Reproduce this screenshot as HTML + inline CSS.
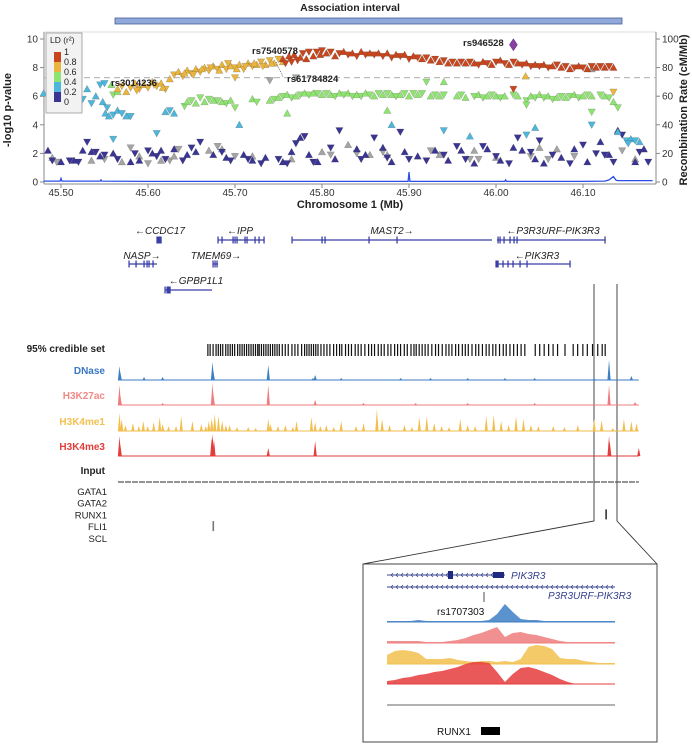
<!DOCTYPE html>
<html><head><meta charset="utf-8">
<style>
html,body{margin:0;padding:0;background:#fff;}
body{width:692px;height:744px;overflow:hidden;font-family:"Liberation Sans",sans-serif;}
svg text{font-family:"Liberation Sans",sans-serif;}
</style></head>
<body>
<svg id="fig" width="692" height="744" viewBox="0 0 692 744" xmlns="http://www.w3.org/2000/svg">
  <text x="350" y="11" text-anchor="middle" font-size="10.5" font-weight="bold" fill="#222">Association interval</text>
  <rect x="115" y="18" width="507" height="6" fill="#90a8da" stroke="#4a5f99" stroke-width="0.8"/>
  <g id="plot"></g>
  <g id="genes"></g>
  <g id="tracks"></g>
  <g id="zoom"></g>
</svg>
<script>
// ===== Scatter data (Mb position, -log10 p) =====
const redPos=[45.755,45.758,45.762,45.765,45.768,45.772,45.775,45.778,45.782,45.785,45.79,45.794,45.798,45.80,45.805,45.81,45.815,45.82,45.825,45.83,45.835,45.84,45.845,45.85,45.855,45.86,45.865,45.87,45.875,45.88,45.885,45.89,45.895,45.90,45.905,45.91,45.915,45.92,45.925,45.93,45.935,45.94,45.945,45.95,45.955,45.96,45.965,45.97,45.975,45.98,45.985,45.99,45.995,46.0,46.005,46.01,46.015,46.02,46.025,46.03,46.035,46.04,46.045,46.05,46.055,46.06,46.065,46.07,46.075,46.08,46.085,46.09,46.095,46.10,46.105,46.11,46.115,46.12,46.125,46.13,46.135,46.02];
const redP=[8.6,8.3,8.8,8.4,8.9,8.5,8.7,9.0,8.6,9.1,8.8,9.1,8.9,9.2,9.0,9.1,8.8,9.0,9.1,8.9,9.0,8.8,9.1,8.9,9.0,8.9,9.0,8.8,9.0,8.7,8.9,8.8,8.9,8.6,8.8,8.7,8.6,8.7,8.5,8.6,8.4,8.5,8.3,8.4,8.3,8.4,8.3,8.4,8.3,8.2,8.4,8.3,8.2,8.4,8.5,8.3,8.2,8.4,8.3,8.2,8.3,8.1,8.2,8.1,8.2,8.0,8.1,8.2,8.0,8.1,7.9,8.0,8.1,8.0,7.9,8.1,8.0,8.1,8.0,8.1,8.0,6.5];
const orangePos=[45.565,45.57,45.575,45.58,45.585,45.59,45.595,45.60,45.605,45.61,45.615,45.62,45.625,45.63,45.635,45.64,45.645,45.65,45.655,45.66,45.665,45.67,45.675,45.68,45.685,45.69,45.695,45.70,45.705,45.71,45.715,45.72,45.725,45.73,45.735,45.74,45.745,45.75,45.755,45.70,46.034,46.135,45.642,45.652,45.662,45.672,45.682,45.692,45.702,45.712,45.722,45.732,45.742,45.607,45.617,45.587];
const orangeP=[6.5,6.7,6.3,6.6,6.9,6.5,6.8,6.6,7.0,6.7,6.9,6.5,7.2,7.5,7.7,7.4,7.8,7.6,7.9,7.7,8.0,7.8,8.1,7.9,8.2,7.9,8.1,8.0,8.2,7.9,8.3,8.1,8.2,8.4,8.2,8.5,8.3,8.6,8.4,7.3,7.4,6.3,7.6,7.5,7.9,8.0,7.8,8.3,7.9,8.1,8.3,8.1,8.3,6.8,6.6,6.4];
const greenPos=[45.558,45.56,45.565,45.642,45.645,45.65,45.655,45.66,45.665,45.67,45.675,45.68,45.685,45.69,45.695,45.70,45.72,45.725,45.74,45.745,45.75,45.755,45.76,45.765,45.77,45.775,45.78,45.785,45.79,45.795,45.80,45.805,45.81,45.815,45.82,45.825,45.83,45.835,45.84,45.845,45.85,45.855,45.86,45.865,45.87,45.875,45.88,45.885,45.89,45.895,45.90,45.905,45.91,45.915,45.925,45.93,45.935,45.94,45.955,45.96,45.965,45.975,45.98,45.985,45.99,45.995,46.0,46.005,46.01,46.02,46.025,46.035,46.04,46.045,46.05,46.055,46.06,46.065,46.07,46.075,46.08,46.085,46.09,46.095,46.10,46.105,46.11,46.12,46.125,46.13,46.135,46.14,45.875,45.92,45.94,46.11,45.76,46.035];
const greenP=[6.8,6.1,6.3,5.3,5.6,5.7,5.5,5.9,5.6,5.8,5.7,5.7,5.6,5.5,5.7,5.2,5.8,5.6,5.7,5.8,5.9,6.0,6.1,5.9,6.0,6.1,6.2,6.1,6.2,6.2,6.1,6.2,6.1,6.0,6.2,6.1,6.2,6.0,6.1,6.0,6.2,6.1,6.0,6.2,6.1,6.2,6.1,6.0,6.1,6.2,6.0,6.2,6.1,6.2,6.0,6.1,6.0,6.1,6.0,6.1,5.9,6.0,6.1,5.9,6.0,6.1,6.0,5.9,6.0,6.1,6.0,5.7,6.0,5.9,6.1,5.9,6.0,5.8,5.9,6.0,5.9,6.0,6.1,5.9,6.0,6.1,6.0,6.1,6.0,5.9,5.6,5.2,5.0,7.0,7.0,4.9,4.8,5.4];
const cyanPos=[45.48,45.49,45.50,45.51,45.52,45.525,45.53,45.535,45.54,45.545,45.548,45.55,45.551,45.553,45.555,45.56,45.565,45.57,45.575,45.58,45.62,45.625,45.63,45.61,45.705,45.56,45.88,45.94,45.97,46.035,46.045,46.11,46.14,46.15,46.155,46.16,46.165,46.152];
const cyanP=[6.2,6.7,6.0,6.6,6.3,5.8,6.5,5.5,6.0,6.8,5.6,6.9,4.8,5.2,4.6,4.7,5.0,4.8,4.6,4.6,4.9,5.0,4.8,3.4,4.0,3.0,4.0,3.6,3.2,3.3,3.8,4.0,3.5,2.9,3.0,2.9,2.8,2.7];
const bluePos=[45.485,45.49,45.50,45.51,45.515,45.52,45.525,45.53,45.535,45.54,45.545,45.55,45.56,45.565,45.58,45.585,45.59,45.60,45.605,45.61,45.615,45.62,45.63,45.64,45.645,45.65,45.655,45.66,45.675,45.685,45.69,45.695,45.71,45.715,45.72,45.73,45.735,45.75,45.755,45.76,45.765,45.77,45.775,45.78,45.785,45.79,45.795,45.81,45.815,45.82,45.84,45.845,45.85,45.86,45.87,45.875,45.88,45.89,45.895,45.90,45.91,45.92,45.93,45.94,45.945,45.955,45.96,45.965,45.975,45.985,45.99,46.0,46.005,46.015,46.02,46.025,46.03,46.04,46.045,46.05,46.055,46.065,46.075,46.085,46.09,46.10,46.105,46.115,46.12,46.125,46.13,46.135,46.14,46.145,46.16,46.165,46.17,46.175];
const blueP=[2.2,1.5,1.4,1.5,1.5,1.4,2.2,2.8,2.1,2.1,1.8,1.9,2.0,1.6,1.4,2.0,1.5,2.2,2.0,1.8,2.2,1.6,2.3,1.5,1.9,2.4,2.1,2.8,1.9,2.1,1.7,1.5,1.9,1.6,1.5,1.3,1.7,1.6,1.4,1.3,2.1,2.7,3.1,3.2,1.9,1.4,1.4,2.4,1.6,3.6,2.3,1.6,1.9,3.1,2.4,1.7,1.4,3.5,2.1,1.6,1.8,1.5,2.2,1.9,1.5,2.5,2.2,1.6,1.3,2.5,2.3,1.8,1.5,1.3,2.4,3.1,2.2,2.1,1.6,2.9,1.3,1.9,1.7,1.3,2.3,2.6,1.4,2.0,2.8,1.9,1.9,1.4,3.6,3.3,1.4,2.1,2.3,1.4];
const grayPos=[45.49,45.495,45.535,45.55,45.57,45.58,45.59,45.60,45.615,45.625,45.63,45.635,45.67,45.68,45.685,45.70,45.72,45.74,45.765,45.77,45.80,45.81,45.83,45.84,45.855,45.87,45.875,45.925,45.935,45.97,45.975,45.98,46.0,46.04,46.05,46.06,46.07,46.09,46.11,46.145,46.16];
const grayP=[1.7,1.4,1.5,1.6,1.4,2.4,1.8,1.3,1.5,1.5,1.8,2.3,2.2,2.5,2.3,1.8,1.8,7.1,1.6,7.3,2.1,1.9,2.6,2.0,1.9,2.1,1.9,2.2,1.9,1.6,2.2,1.6,1.7,1.8,2.4,1.6,2.3,1.8,7.9,2.2,1.6];
const leadPos=46.02, leadP=9.6;
const recPos=[45.48,45.499,45.5,45.501,45.545,45.546,45.547,45.6,45.7,45.8,45.899,45.9,45.901,45.95,46.0,46.01,46.011,46.012,46.1,46.125,46.13,46.135,46.138,46.14,46.16,46.18];
const recRate=[0.6,0.6,2.5,0.6,0.6,1.5,0.6,0.4,0.4,0.4,0.4,7,0.4,0.4,0.4,0.4,1.5,0.4,0.4,0.6,1.5,3.8,1.2,1,1,1];
const xTicks=[45.50,45.60,45.70,45.80,45.90,46.00,46.10];
const yTicks=[0,2,4,6,8,10];
const rTicks=[0,20,40,60,80,100];

const NS="http://www.w3.org/2000/svg";
function mk(tag,attrs,parent){const e=document.createElementNS(NS,tag);for(const k in attrs)e.setAttribute(k,attrs[k]);parent.appendChild(e);return e;}
const X=v=>61+(v-45.5)*870;
const Y=p=>182-p*14.3;
const YR=r=>182-r*1.43;
const plot=document.getElementById('plot');

let fr=mk('line',{x1:44,y1:32,x2:656,y2:32,stroke:'#ddd','stroke-width':1},plot);


let ax=mk('line',{x1:44,y1:32,x2:44,y2:184,stroke:'#888','stroke-width':1},plot);


let ax2=mk('line',{x1:656,y1:32,x2:656,y2:184,stroke:'#888','stroke-width':1},plot);


let axb=mk('line',{x1:44,y1:184,x2:656,y2:184,stroke:'#888','stroke-width':1},plot);


let dl=mk('line',{x1:44,y1:Y(7.3),x2:656,y2:Y(7.3),stroke:'#bbb','stroke-width':1.2,'stroke-dasharray':'6,4'},plot);



yTicks.forEach(t=>{
  const l=mk('line',{x1:40,y1:Y(t),x2:44,y2:Y(t),stroke:'#888'},plot);
  
  
  const tx=mk('text',{x:38,y:Y(t)+3.5,'text-anchor':'end','font-size':10,fill:'#333'},plot);tx.textContent=t;
  
  
});
rTicks.forEach(t=>{
  const l=mk('line',{x1:656,y1:YR(t),x2:660,y2:YR(t),stroke:'#888'},plot);
  
  
  const tx=mk('text',{x:662,y:YR(t)+3.5,'font-size':10,fill:'#333'},plot);tx.textContent=t;
  
  
});
xTicks.forEach(t=>{
  const l=mk('line',{x1:X(t),y1:184,x2:X(t),y2:188,stroke:'#888'},plot);
  
  
  const tx=mk('text',{x:X(t),y:196,'text-anchor':'middle','font-size':10,fill:'#333'},plot);tx.textContent=t.toFixed(2);
  
  
});
let xt=mk('text',{x:350,y:208,'text-anchor':'middle','font-size':11,'font-weight':'bold',fill:'#222'},plot);xt.textContent='Chromosome 1 (Mb)';


let yt=mk('text',{x:0,y:0,'text-anchor':'middle','font-size':11,'font-weight':'bold',fill:'#222',transform:'translate(11,110) rotate(-90)'},plot);yt.textContent='-log10 p-value';


let rt=mk('text',{x:0,y:0,'text-anchor':'middle','font-size':11,'font-weight':'bold',fill:'#222',transform:'translate(687,110) rotate(-90)'},plot);rt.textContent='Recombination Rate (cM/Mb)';



function tri(x,y,up){const s=3.7;return up?`M${x},${y-s} L${x+s},${y+s*0.8} L${x-s},${y+s*0.8}Z`:`M${x},${y+s} L${x+s},${y-s*0.8} L${x-s},${y-s*0.8}Z`;}
function series(pos,p,color,name){
  const g=mk('g',{},plot);
  
  
  pos.forEach((v,i)=>{
    const pt=mk('path',{d:tri(X(v),Y(p[i]),i%2===0),fill:color,stroke:'rgba(60,60,60,0.45)','stroke-width':0.4},g);
    
    
  });
}
series(grayPos,grayP,'#a4a4a4','ld-missing');
series(bluePos,blueP,'#3a3493','ld-0-0.2');
series(cyanPos,cyanP,'#4db6da','ld-0.2-0.4');
series(greenPos,greenP,'#8fe471','ld-0.4-0.6');
series(orangePos,orangeP,'#eab43e','ld-0.6-0.8');
series(redPos,redP,'#c8461e','ld-0.8-1');
const lx=X(leadPos),ly=Y(leadP);
let ld=mk('path',{d:`M${lx},${ly-6} L${lx+4},${ly} L${lx},${ly+6} L${lx-4},${ly}Z`,fill:'#8a3fa6',stroke:'#5a2a70','stroke-width':0.5},plot);



let d='';recPos.forEach((v,i)=>{d+=(i?'L':'M')+X(v).toFixed(1)+','+YR(recRate[i]).toFixed(1);});
let rl=mk('path',{d:d,fill:'none',stroke:'#2a4ee8','stroke-width':1.3},plot);



[['rs3014236',111,86],['rs7540578',252,54],['rs61784824',287,82],['rs946528',463,46]].forEach(a=>{
  const t=mk('text',{x:a[1],y:a[2],'font-size':9.5,'font-weight':'bold',fill:'#222'},plot);t.textContent=a[0];
  
  
});
let ll=mk('line',{x1:276,y1:62,x2:283,y2:77,stroke:'#444','stroke-width':0.7,'stroke-dasharray':'1,1'},plot);



const lg=mk('g',{},plot);


mk('rect',{x:46,y:33,width:36,height:80,fill:'#f2f2f2',stroke:'#999','stroke-width':0.8},lg);
let lt=mk('text',{x:50,y:43,'font-size':8.5,fill:'#222'},lg);lt.textContent='LD (r²)';
const legCols=['#c8461e','#eab43e','#8fe471','#4db6da','#3a3493'];
const legLabels=['1','0.8','0.6','0.4','0.2','0'];
legCols.forEach((c,i)=>{mk('rect',{x:54,y:52+i*10,width:7,height:10,fill:c},lg);});
legLabels.forEach((s,i)=>{const t=mk('text',{x:64,y:55+i*10,'font-size':9,fill:'#222'},lg);t.textContent=s;});

// ===== Genes =====
const genes=document.getElementById('genes');
const geneData=[
 {n:'←CCDC17',lx:160,ly:234,x1:157,x2:161,y:240,ex:[157,158,159,160,161]},
 {n:'←IPP',lx:240,ly:234,x1:218,x2:264,y:240,ex:[218,222,233,235,237,245,247,255,259,264]},
 {n:'MAST2→',lx:392,ly:234,x1:292,x2:492,y:240,ex:[292,322,325,369,397]},
 {n:'←P3R3URF-PIK3R3',lx:553,ly:234,x1:497,x2:605,y:240,ex:[498,500,504,510,514,517,605]},
 {n:'NASP→',lx:142,ly:259,x1:129,x2:157,y:264,ex:[129,136,144,147,149,153]},
 {n:'TMEM69→',lx:216,ly:259,x1:213,x2:218,y:264,ex:[213,215,217]},
 {n:'←PIK3R3',lx:537,ly:259,x1:496,x2:570,y:264,ex:[496,497,498,503,508,513,520,527,570]},
 {n:'←GPBP1L1',lx:196,ly:284,x1:165,x2:212,y:290,ex:[165,167,168,169,170]}
];
geneData.forEach(g=>{
  const gg=mk('g',{},genes);
  
  
  const t=mk('text',{x:g.lx,y:g.ly,'text-anchor':'middle','font-size':10,'font-style':'italic',fill:'#222'},gg);t.textContent=g.n;
  mk('line',{x1:g.x1,y1:g.y,x2:g.x2,y2:g.y,stroke:'#3b3fa8','stroke-width':1.2},gg);
  g.ex.forEach(e=>mk('rect',{x:e-0.6,y:g.y-3.5,width:1.3,height:7,fill:'#3b3fa8'},gg));
});
const guide=mk('g',{},genes);


mk('polyline',{points:'594,284 594,521 363,564',fill:'none',stroke:'#333','stroke-width':0.9},guide);
mk('polyline',{points:'617,284 617,521 657,564',fill:'none',stroke:'#333','stroke-width':0.9},guide);

// ===== Epigenome tracks (k = kb offset 0..700) =====
const credK=[120,123,127,131,134,137,140,144,147,150,153,156,160,163,166,169,172,175,178,181,184,187,189,192,195,198,201,204,207,210,213,216,220,224,228,233,237,241,246,250,253,256,259,262,265,268,272,276,280,284,289,293,297,300,305,309,313,318,322,326,331,336,340,344,349,353,357,362,366,371,375,379,384,388,393,397,400,404,408,412,416,421,426,430,435,440,444,448,453,457,462,466,470,475,480,484,489,494,498,503,507,512,517,521,526,531,536,541,546,560,566,572,578,584,590,600,611,617,624,630,637,644,650,654];
const dnaseK=[2,3,35,60,127,128,202,262,265,300,380,420,470,520,560,640,660,690];
const dnaseH=[14,8,3,3,18,10,15,2,5,2,2,2,2,2,2,2,20,4];
const k27K=[2,3,60,127,128,202,265,330,400,470,560,660,695];
const k27H=[20,10,2,22,12,20,5,2,2,2,2,20,3];
const k4me1K=[2,5,10,20,28,34,40,48,56,60,68,78,85,100,112,118,122,126,130,135,140,145,150,160,175,185,202,205,215,225,235,240,260,265,272,280,290,300,320,330,348,355,365,385,395,405,415,425,435,445,460,470,480,495,505,515,525,535,545,555,565,585,600,618,640,650,665,680,690,697];
const k4me1H=[18,12,6,8,5,10,5,9,14,7,5,5,15,10,7,5,10,13,17,15,10,6,6,4,4,3,12,7,5,6,4,10,14,9,5,6,4,10,5,8,22,12,6,6,4,14,15,8,5,4,12,6,5,15,16,10,6,15,12,6,5,5,4,6,12,11,3,12,10,8];
const k4me3K=[2,3,126,127,129,202,265,660,661,700];
const k4me3H=[20,12,18,22,16,8,15,20,14,8];
const inputK=[0,700];
const tracks=document.getElementById('tracks');
const TX=k=>118+k*0.744;
function track(name,label,color,base,ks,hs,labelColor){
  const g=mk('g',{},tracks);
  
  
  const t=mk('text',{x:105,y:base-6,'text-anchor':'end','font-size':10,'font-weight':'bold',fill:labelColor},g);t.textContent=label;
  mk('line',{x1:TX(0),y1:base,x2:TX(700),y2:base,stroke:color,'stroke-width':1.3,opacity:0.8},g);
  ks.forEach((k,i)=>{
    const x=TX(k),h=hs[i];
    const pk=mk('path',{d:`M${x-1.6},${base} L${x},${base-h} L${x+1.6},${base}Z`,fill:color},g);
    
    
  });
}
track('dnase','DNase','#3d7fc4',380,dnaseK,dnaseH,'#3a78c2');
track('h3k27ac','H3K27ac','#ee7c7c',405,k27K,k27H,'#ef8a86');
track('h3k4me1','H3K4me1','#f2bf4e',431,k4me1K,k4me1H,'#f2c04e');
track('h3k4me3','H3K4me3','#e53c3c',456,k4me3K,k4me3H,'#e23b3b');
const inp=mk('g',{},tracks);


let it=mk('text',{x:105,y:474,'text-anchor':'end','font-size':10,'font-weight':'bold',fill:'#222'},inp);it.textContent='Input';
mk('line',{x1:TX(inputK[0]),y1:482,x2:TX(inputK[1]),y2:482,stroke:'#555','stroke-width':1.2,'stroke-dasharray':'6,1'},inp);
let cl=mk('text',{x:105,y:352,'text-anchor':'end','font-size':10,'font-weight':'bold',fill:'#222'},tracks);cl.textContent='95% credible set';


const cs=mk('g',{},tracks);


credK.forEach(k=>{const r=mk('rect',{x:TX(k),y:344,width:1.2,height:12,fill:'#111'},cs);
  
  });
const tfNames=['GATA1','GATA2','RUNX1','FLI1','SCL'];
const tfK=[null,null,655,127,null];
tfNames.forEach((n,i)=>{
  const y=495+i*11.7;
  const t=mk('text',{x:107,y:y,'text-anchor':'end','font-size':9.5,fill:'#222'},tracks);t.textContent=n;
  
  
  if(tfK[i]!==null){const r=mk('rect',{x:TX(tfK[i]),y:y-9,width:1.6,height:10,fill:n==='FLI1'?'#777':'#333'},tracks);
    
    }
});

// ===== Zoom panel =====
const dnaseZ=[1,1,1,1,2,1,1,1,1,1,1,1,1,2,8,18,10,3,2,2,1,1,1,1,1,1,1,1,1,1];
const k27Z=[2,2,2,2,2,1,1,1,2,3,5,8,10,13,16,6,10,11,9,8,6,4,2,1,1,1,1,1,1,1];
const k4me1Z=[9,13,14,13,11,5,5,5,6,4,3,2,3,3,2,3,2,5,17,19,18,15,6,5,5,3,2,1,1,1];
const k4me3Z=[3,4,6,7,9,10,12,13,15,17,20,22,22,21,12,2,10,16,17,15,12,9,5,2,0,0,0,0,0,0];
const zp=document.getElementById('zoom');
mk('rect',{x:363,y:564,width:294,height:178,fill:'#fff',stroke:'#444','stroke-width':1},zp);
const ZX=i=>387+i*(228/29);
function zt(name,arr,base,color){
  let d=`M${ZX(0)},${base}`;arr.forEach((v,i)=>{d+=` L${ZX(i).toFixed(1)},${(base-v).toFixed(1)}`;});d+=` L${ZX(29)},${base}Z`;
  const p=mk('path',{d:d,fill:color,opacity:0.85},zp);
  
  
  mk('line',{x1:387,y1:base,x2:615,y2:base,stroke:color,'stroke-width':1},zp);
}
zt('dnase',dnaseZ,622,'#3d7fc4');
zt('h3k27ac',k27Z,643,'#ee7c7c');
zt('h3k4me1',k4me1Z,664,'#f2bf4e');
zt('h3k4me3',k4me3Z,684,'#e53c3c');
let zi=mk('line',{x1:387,y1:705,x2:615,y2:705,stroke:'#666','stroke-width':1},zp);


const zg=mk('g',{},zp);


mk('line',{x1:387,y1:575,x2:505,y2:575,stroke:'#34418e','stroke-width':1},zg);
mk('line',{x1:387,y1:587,x2:615,y2:587,stroke:'#34418e','stroke-width':1},zg);
let chev='';
for(let x=391;x<505;x+=5){chev+=`M${x+2},573 L${x},575 L${x+2},577 `;}
for(let x=391;x<613;x+=5){chev+=`M${x+2},585 L${x},587 L${x+2},589 `;}
mk('path',{d:chev,fill:'none',stroke:'#34418e','stroke-width':0.7},zg);
mk('rect',{x:448,y:571,width:5,height:8,fill:'#1d2a80'},zg);
mk('rect',{x:493,y:572,width:11,height:6,fill:'#1d2a80'},zg);
let g1=mk('text',{x:511,y:579,'font-size':10,'font-style':'italic',fill:'#34418e'},zg);g1.textContent='PIK3R3';
let g2=mk('text',{x:548,y:599,'font-size':10,'font-style':'italic',fill:'#34418e'},zg);g2.textContent='P3R3URF-PIK3R3';
let rs=mk('line',{x1:484,y1:592,x2:484,y2:602,stroke:'#222','stroke-width':0.8},zp);


let rst=mk('text',{x:437,y:615,'font-size':10,fill:'#111'},zp);rst.textContent='rs1707303';


let rx=mk('text',{x:437,y:735,'font-size':10,fill:'#111'},zp);rx.textContent='RUNX1';


let rb=mk('rect',{x:481,y:727,width:19,height:8,fill:'#000'},zp);


</script>
</body></html>
